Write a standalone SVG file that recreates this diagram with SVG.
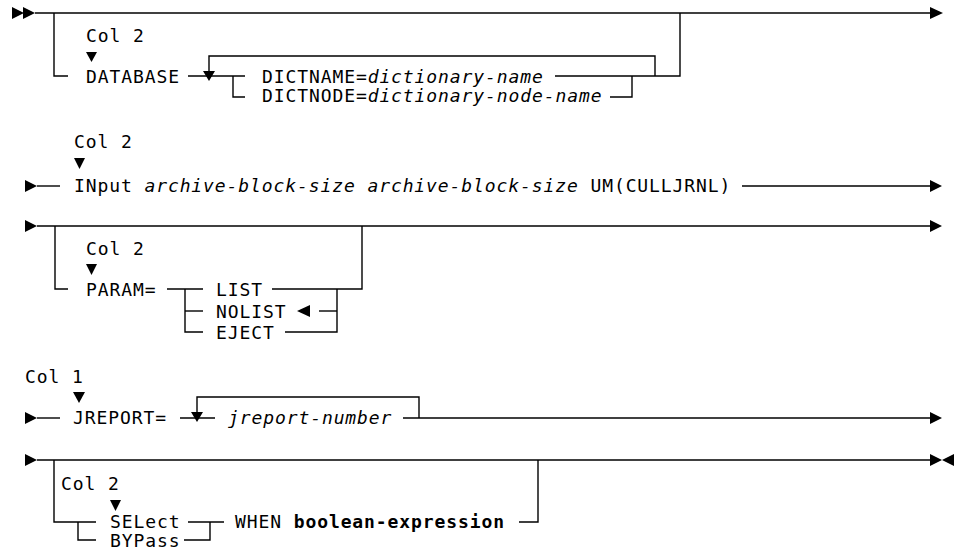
<svg xmlns="http://www.w3.org/2000/svg" width="954" height="556" viewBox="0 0 954 556">
<style>
.t{font-family:"DejaVu Sans Mono","Liberation Mono",monospace;font-size:18px;letter-spacing:0.9px;fill:#000}
.i{font-style:italic}
.b{font-weight:bold}
.ln{stroke:#000;stroke-width:1.4;fill:none}
.ar{fill:#000}
</style>
<rect width="954" height="556" fill="#fff"/>
<g id="connectors">
  <!-- row 1 -->
  <path class="ln" d="M35,13 H931"/>
  <path class="ln" d="M54,13 V76 H68"/>
  <path class="ln" d="M188,76 H245"/>
  <path class="ln" d="M209,76 V56 H655 V76"/>
  <path class="ln" d="M233,76 V97 H245"/>
  <path class="ln" d="M555,76 H680 V13"/>
  <path class="ln" d="M610,97 H632 V76"/>
  <!-- row 2 -->
  <path class="ln" d="M37,186 H60"/>
  <path class="ln" d="M742,186 H931"/>
  <!-- row 3 -->
  <path class="ln" d="M37,226 H931"/>
  <path class="ln" d="M55,226 V289 H68"/>
  <path class="ln" d="M167,289 H203"/>
  <path class="ln" d="M185,289 V332 H203"/>
  <path class="ln" d="M185,311 H203"/>
  <path class="ln" d="M272,289 H362 V226"/>
  <path class="ln" d="M319,311 H337"/>
  <path class="ln" d="M285,332 H337 V289"/>
  <!-- row 4 -->
  <path class="ln" d="M37,418 H60"/>
  <path class="ln" d="M180,418 H215"/>
  <path class="ln" d="M197,418 V397 H419 V418"/>
  <path class="ln" d="M403,418 H931"/>
  <!-- row 5 -->
  <path class="ln" d="M37,460 H931"/>
  <path class="ln" d="M54,460 V522 H96"/>
  <path class="ln" d="M78,522 V540 H96"/>
  <path class="ln" d="M188,522 H224"/>
  <path class="ln" d="M184,540 H210 V522"/>
  <path class="ln" d="M519,522 H538 V460"/>
</g>
<g id="arrows">
  <polygon class="ar" points="12,7 24,13 12,19"/>
  <polygon class="ar" points="23,7 35,13 23,19"/>
  <polygon class="ar" points="930,7 943,13 930,19"/>
  <polygon class="ar" points="25,180 37,186 25,192"/>
  <polygon class="ar" points="930,180 942,186 930,192"/>
  <polygon class="ar" points="25,220 37,226 25,232"/>
  <polygon class="ar" points="930,220 942,226 930,232"/>
  <polygon class="ar" points="25,412 37,418 25,424"/>
  <polygon class="ar" points="930,412 942,418 930,424"/>
  <polygon class="ar" points="25,454 37,460 25,466"/>
  <polygon class="ar" points="930,454 942,460 930,466"/>
  <polygon class="ar" points="954,454 942,460 954,466"/>
</g>
<g id="database">
  <text class="t" x="86" y="42">Col 2</text>
  <polygon class="ar" points="86,52 97,52 91.5,62"/>
  <text class="t" x="86" y="83">DATABASE</text>
  <polygon class="ar" points="203,71 215,71 209,81"/>
</g>
<g id="dictname">
  <text class="t" x="262" y="83">DICTNAME=<tspan class="i">dictionary-name</tspan></text>
</g>
<g id="dictnode">
  <text class="t" x="262" y="102">DICTNODE=<tspan class="i">dictionary-node-name</tspan></text>
</g>
<g id="input">
  <text class="t" x="74" y="148">Col 2</text>
  <polygon class="ar" points="74,158 85,158 79.5,169"/>
  <text class="t" x="74" y="192">INput <tspan class="i">archive-block-size archive-block-size</tspan> UM(CULLJRNL)</text>
</g>
<g id="param">
  <text class="t" x="86" y="255">Col 2</text>
  <polygon class="ar" points="86,264 97,264 91.5,275"/>
  <text class="t" x="86" y="296">PARAM=</text>
</g>
<g id="list"><text class="t" x="216" y="296">LIST</text></g>
<g id="nolist">
  <text class="t" x="216" y="318">NOLIST</text>
  <polygon class="ar" points="310,305 297,311 310,317"/>
</g>
<g id="eject"><text class="t" x="216" y="339">EJECT</text></g>
<g id="jreport">
  <text class="t" x="25" y="383">Col 1</text>
  <polygon class="ar" points="73,392 85,392 79,403"/>
  <text class="t" x="73" y="424">JREPORT=</text>
  <polygon class="ar" points="191,412 203,412 197,422"/>
  <text class="t i" x="228" y="424">jreport-number</text>
</g>
<g id="select">
  <text class="t" x="61" y="490">Col 2</text>
  <polygon class="ar" points="110,500 121,500 115.5,511"/>
  <text class="t" x="110" y="528">SELect</text>
</g>
<g id="bypass"><text class="t" x="110" y="547">BYPass</text></g>
<g id="when">
  <text class="t" x="235" y="528">WHEN <tspan class="b">boolean-expression</tspan></text>
</g>
</svg>
